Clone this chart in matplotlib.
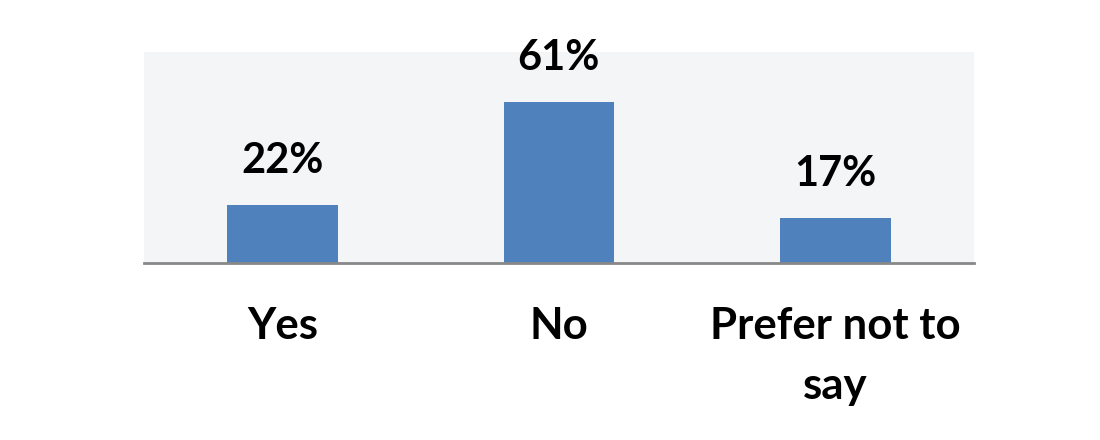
import matplotlib.pyplot as plt

categories = ['Yes', 'No', 'Prefer not to\nsay']
values = [22, 61, 17]
labels = ['22%', '61%', '17%']

plt.rcParams['font.family'] = ['Lato', 'DejaVu Sans']

fig = plt.figure(figsize=(11, 4.4), dpi=100)
ax = fig.add_axes([0.131, 0.402, 0.754, 0.480])
ax.set_facecolor('#f4f5f7')

x = range(len(categories))
bars = ax.bar(x, values, width=0.4, color='#4f81bd', zorder=2)

for rect, lab in zip(bars, labels):
    ax.annotate(lab, (rect.get_x() + rect.get_width() / 2, rect.get_height()),
                xytext=(0, 18), textcoords='offset points',
                ha='center', va='bottom', fontsize=30, fontweight='bold')

ax.set_xlim(-0.5, 2.5)
ax.set_ylim(0, 80)
ax.set_xticks(list(x))
ax.set_xticklabels(categories, fontsize=31.5, fontweight='bold', linespacing=1.6)
ax.tick_params(axis='x', length=0, pad=31)
ax.set_yticks([])

for side in ['top', 'left', 'right']:
    ax.spines[side].set_visible(False)
ax.spines['bottom'].set_color('#888888')
ax.spines['bottom'].set_linewidth(2)

fig.savefig('out.png', dpi=100)
